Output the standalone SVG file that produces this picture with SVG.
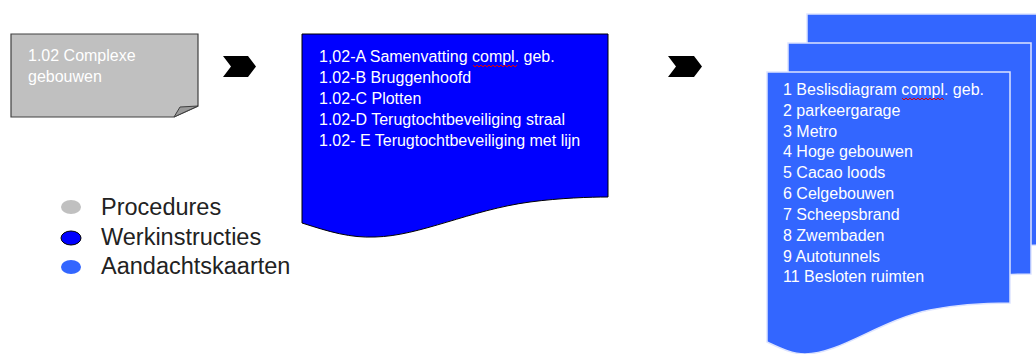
<svg xmlns="http://www.w3.org/2000/svg" width="1036" height="354" viewBox="0 0 1036 354">
<style>
text{font-family:"Liberation Sans",Arial,sans-serif}
.w{fill:#ffffff;font-size:16px}
.lg{fill:#222222;font-size:23.5px}
.chev{fill:#000000}
.sq{fill:none;stroke:#e00000;stroke-width:1}
.card{fill:#3366ff;stroke:#dde4ff;stroke-width:1.5}
</style>
<defs>
<path id="doc" d="M0,0 H243 V231 C223,231 193,232 163,238 C113,248 73,282 38,282 C25,282 13,276 0,270 Z"/>
</defs>
<rect width="1036" height="354" fill="#ffffff"/>
<g id="procedure">
<path d="M11,34 H198 V106 L174,117 H11 Z" fill="#c0c0c0" stroke="#404040" stroke-width="1.2"/>
<path d="M174,117 L180,107 L198,106 Z" fill="#9a9a9a" stroke="#404040" stroke-width="1"/>
<text class="w" x="28" y="61">1.02 Complexe</text>
<text class="w" x="28" y="82">gebouwen</text>
</g>
<g id="connectors">
<polygon class="chev" points="223,56 248,56 256,66.5 248,77 223,77 231,66.5"/>
<polygon class="chev" points="668,56 694,56 702,66.5 694,77 668,77 676,66.5"/>
</g>
<g id="werkinstructies">
<path d="M302,34 H608 V197 C590,197 560,198 530,202 C470,210 420,236 375,237 C350,238 330,232 302,223 Z" fill="#0000ff" stroke="#000000" stroke-width="1"/>
<text class="w" x="319" y="62">1,02-A Samenvatting compl. geb.</text>
<text class="w" x="319" y="83">1.02-B Bruggenhoofd</text>
<text class="w" x="319" y="104">1.02-C Plotten</text>
<text class="w" x="319" y="125">1.02-D Terugtochtbeveiliging straal</text>
<text class="w" x="319" y="146">1.02- E Terugtochtbeveiliging met lijn</text>
<polyline class="sq" points="473,65 475,67 477,65 479,67 481,65 483,67 485,65 487,67 489,65 491,67 493,65 495,67 497,65 499,67 501,65 503,67 505,65 507,67 509,65 511,67 513,65 515,67 517,65"/>
</g>
<g id="aandachtskaarten">
<use href="#doc" class="card" x="807" y="14"/>
<use href="#doc" class="card" x="788" y="43"/>
<use href="#doc" class="card" x="767" y="72"/>
<text class="w" x="783" y="95">1 Beslisdiagram compl. geb.</text>
<text class="w" x="783" y="116">2 parkeergarage</text>
<text class="w" x="783" y="137">3 Metro</text>
<text class="w" x="783" y="157">4 Hoge gebouwen</text>
<text class="w" x="783" y="178">5 Cacao loods</text>
<text class="w" x="783" y="199">6 Celgebouwen</text>
<text class="w" x="783" y="220">7 Scheepsbrand</text>
<text class="w" x="783" y="241">8 Zwembaden</text>
<text class="w" x="783" y="262">9 Autotunnels</text>
<text class="w" x="783" y="282">11 Besloten ruimten</text>
<polyline class="sq" points="902,98 904,100 906,98 908,100 910,98 912,100 914,98 916,100 918,98 920,100 922,98 924,100 926,98 928,100 930,98 932,100 934,98 936,100 938,98 940,100 942,98 944,100"/>
</g>
<g id="legend">
<ellipse cx="71" cy="207" rx="10" ry="7" fill="#c0c0c0"/>
<ellipse cx="71" cy="238" rx="10" ry="7" fill="#0000ff" stroke="#000000" stroke-width="1"/>
<ellipse cx="71" cy="267" rx="10" ry="7" fill="#3366ff"/>
<text class="lg" x="101" y="215">Procedures</text>
<text class="lg" x="101" y="245">Werkinstructies</text>
<text class="lg" x="101" y="274">Aandachtskaarten</text>
</g>
</svg>
